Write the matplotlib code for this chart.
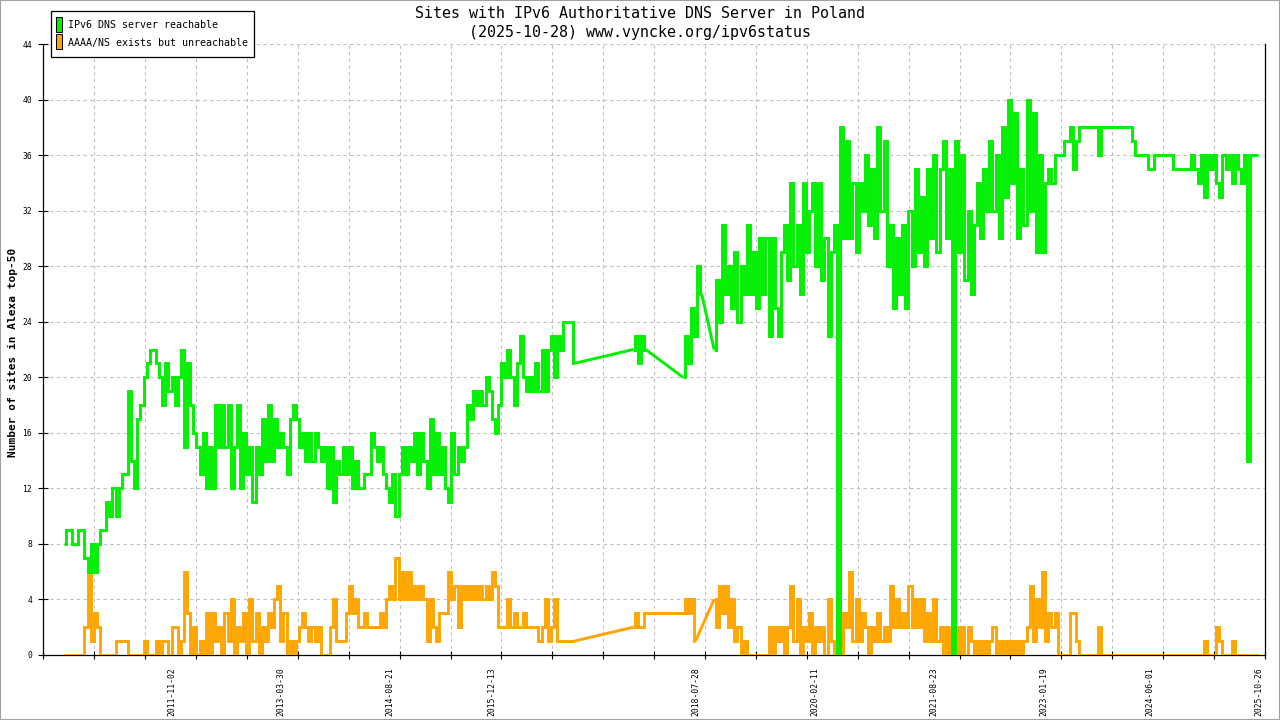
import datetime
import numpy as np
import matplotlib
matplotlib.use("Agg")
import matplotlib.pyplot as plt
from matplotlib.patches import Rectangle

# ---------------- data (sampled every 0.04 year from 2010.45) ----------------
t_start = 2010.45
t_step = 0.04
N = None

green_2010_2013 = [
    8, 9, 9, 8, 8, 9, 9, 7, 6, 8,
    6, 8, 9, 9, 11, 10, 12, 10, 12, 13,
    13, 19, 14, 12, 17, 18, 20, 21, 22, 22,
    21, 20, 18, 21, 19, 20, 18, 20, 22, 15,
    21, 18, 16, 15, 13, 16, 12, 15, 12, 18,
    15, 18, 15, 18, 12, 15, 18, 12, 16, 13,
    15, 11, 15, 13, 17, 14, 18, 14, 17, 15,
    16, 15, 13, 17, 18, 17, 15, 16, 14, 16,
    14, 16, 15, 14, 15, 12, 15, 11, 14, 13,
    15, 13, 15, 12, 14, 12, 12, 13, 13, 16,
]
green_2014_2017 = [
    15, 14, 15, 13, 12, 11, 13, 10, 13, 15,
    13, 15, 14, 16, 13, 16, 14, 12, 17, 13,
    16, 13, 15, 12, 11, 16, 13, 15, 14, 15,
    18, 17, 19, 18, 19, 18, 20, 19, 17, 16,
    18, 21, 20, 22, 20, 18, 21, 23, 20, 19,
    20, 19, 21, 19, 22, 19, 22, 23, 20, 23,
    22, 24, 24, 24, 21, N, N, N, N, N,
    N, N, N, N, N, N, N, N, N, N,
    N, N, N, 22, 23, 21, 23, 22, N, N,
    N, N, N, N, N, N, N, N, N, 20,
]
green_2018_2021 = [
    23, 21, 25, 23, 28, 26, N, N, N, 22,
    27, 24, 31, 26, 28, 25, 29, 24, 28, 26,
    31, 26, 29, 25, 30, 26, 30, 23, 30, 25,
    23, 29, 31, 27, 34, 28, 31, 26, 34, 29,
    32, 34, 28, 34, 27, 30, 23, 29, 31, 0,
    38, 30, 37, 30, 34, 29, 34, 32, 36, 31,
    35, 30, 38, 32, 37, 28, 31, 25, 30, 26,
    31, 25, 32, 28, 35, 29, 33, 28, 35, 30,
    36, 29, 35, 37, 30, 35, 0, 37, 29, 36,
    27, 32, 26, 31, 34, 30, 35, 32, 37, 32,
]
green_2022_2025 = [
    36, 30, 38, 33, 40, 34, 39, 30, 35, 31,
    40, 32, 39, 29, 36, 29, 34, 35, 34, 36,
    36, 36, 37, 37, 38, 35, 37, 38, 38, 38,
    38, 38, 38, 36, 38, 38, 38, 38, 38, 38,
    38, 38, 38, 38, 37, 36, 36, 36, 36, 35,
    35, 36, 36, 36, 36, 36, 36, 35, 35, 35,
    35, 35, 35, 36, 35, 34, 36, 33, 36, 35,
    36, 34, 33, 36, 35, 36, 34, 36, 35, 34,
    36, 14, 36, 36, 36,
]

orange_2010_2013 = [
    0, 0, 0, 0, 0, 0, 0, 2, 6, 1,
    3, 2, 0, 0, 0, 0, 0, 1, 1, 1,
    1, 0, 0, 0, 0, 0, 1, 0, 0, 0,
    1, 0, 1, 1, 0, 2, 2, 0, 1, 6,
    3, 0, 2, 0, 1, 0, 3, 0, 3, 1,
    2, 0, 3, 1, 4, 0, 2, 1, 3, 0,
    4, 1, 3, 0, 2, 1, 3, 2, 4, 5,
    1, 3, 0, 1, 0, 1, 2, 3, 2, 1,
    2, 1, 2, 0, 0, 0, 2, 4, 1, 1,
    1, 3, 5, 3, 4, 2, 2, 3, 2, 2,
]
orange_2014_2017 = [
    2, 2, 3, 2, 4, 5, 4, 7, 4, 6,
    4, 6, 4, 5, 4, 5, 4, 1, 4, 2,
    1, 3, 3, 3, 6, 4, 5, 2, 5, 4,
    5, 4, 5, 4, 5, 4, 5, 4, 6, 5,
    2, 2, 2, 4, 2, 3, 2, 2, 3, 2,
    2, 2, 2, 1, 2, 4, 1, 2, 4, 1,
    1, 1, 1, 1, 1, N, N, N, N, N,
    N, N, N, N, N, N, N, N, N, N,
    N, N, N, 2, 3, 2, 2, 3, 3, 3,
    3, 3, 3, 3, 3, 3, 3, 3, 3, 3,
]
orange_2018_2021 = [
    4, 3, 4, 1, N, N, N, N, N, 4,
    2, 5, 3, 5, 2, 4, 1, 2, 0, 1,
    0, 0, 0, 0, 0, 0, 0, 2, 0, 2,
    1, 2, 0, 2, 5, 1, 4, 0, 2, 1,
    3, 0, 2, 1, 2, 0, 4, 1, 0, 1,
    0, 3, 2, 6, 1, 4, 1, 3, 2, 0,
    2, 1, 3, 1, 2, 1, 5, 2, 4, 2,
    3, 2, 5, 2, 4, 2, 4, 1, 3, 1,
    4, 1, 2, 0, 2, 0, 1, 2, 0, 2,
    0, 2, 1, 0, 1, 0, 1, 0, 1, 2,
]
orange_2022_2025 = [
    0, 1, 0, 1, 0, 1, 0, 1, 0, 1,
    2, 5, 1, 4, 2, 6, 1, 3, 2, 3,
    0, 0, 0, 0, 3, 3, 1, 0, 0, 0,
    0, 0, 0, 2, 0, 0, 0, 0, 0, 0,
    0, 0, 0, 0, 0, 0, 0, 0, 0, 0,
    0, 0, 0, 0, 0, 0, 0, 0, 0, 0,
    0, 0, 0, 0, 0, 0, 0, 1, 0, 0,
    0, 2, 1, 0, 0, 0, 1, 0, 0, 0,
    0, 0, 0, 0, 0,
]

label_dates = ["2011-11-02", "2013-03-30", "2014-08-21", "2015-12-13",
               "2018-07-28", "2020-02-11", "2021-08-23", "2023-01-19",
               "2024-06-01", "2025-10-26"]
y_ticks = list(range(0, 45, 4))

title1 = "Sites with IPv6 Authoritative DNS Server in Poland"
title2 = "(2025-10-28) www.vyncke.org/ipv6status"
legend_green = "IPv6 DNS server reachable"
legend_orange = "AAAA/NS exists but unreachable"
ylabel = "Number of sites in Alexa top-50"

GREEN = "#00f000"
ORANGE = "#ffa500"
MONO = "DejaVu Sans Mono"
LW = 2.1


def dec_year(s):
    d = datetime.date.fromisoformat(s)
    a = datetime.date(d.year, 1, 1)
    b = datetime.date(d.year + 1, 1, 1)
    return d.year + (d - a).days / (b - a).days


def runs(*chunks):
    """Split a sampled series into runs of available samples."""
    vals = [v for c in chunks for v in c]
    t = t_start + t_step * np.arange(len(vals))
    out, cur = [], []
    for ti, v in zip(t, vals):
        if v is None:
            if cur:
                out.append(cur)
                cur = []
        else:
            cur.append((ti, v))
    if cur:
        out.append(cur)
    return [(np.array([p[0] for p in r]), np.array([p[1] for p in r], float)) for r in out]


def draw(ax, rr, color, z):
    for k, (t, v) in enumerate(rr):
        ax.plot(t, v, color=color, lw=LW, drawstyle="steps-mid",
                solid_joinstyle="miter", solid_capstyle="butt", zorder=z)
        if k + 1 < len(rr):
            t2, v2 = rr[k + 1]
            ax.plot([t[-1], t2[0]], [v[-1], v2[0]], color=color, lw=LW,
                    solid_capstyle="butt", zorder=z)


green_runs = runs(green_2010_2013, green_2014_2017, green_2018_2021, green_2022_2025)
orange_runs = runs(orange_2010_2013, orange_2014_2017, orange_2018_2021, orange_2022_2025)

# ---------------- figure ----------------
W, H = 1280, 720
fig = plt.figure(figsize=(W / 100, H / 100), dpi=100)
fig.patch.set_facecolor("white")


def fx(x):
    return x / W


def fy(y):
    return 1 - y / H


L, R, T, B = 43.3, 1265, 44, 655
ax = fig.add_axes([fx(L), fy(B), fx(R) - fx(L), fy(T) - fy(B)])

xmin, xmax = 2010.18, 2025.897
ax.set_xlim(xmin, xmax)
ax.set_ylim(0, 44)

draw(ax, orange_runs, ORANGE, 3)
draw(ax, green_runs, GREEN, 4)

# ticks and grid
grid_x = np.linspace(xmin, xmax, 25)
ax.set_xticks(grid_x)
ax.set_xticklabels([])
ax.set_xticks([dec_year(s) for s in label_dates], minor=True)
ax.set_xticklabels(label_dates, minor=True, rotation=90, family=MONO, fontsize=5.8)
ax.tick_params(axis="x", which="major", direction="inout", length=6, width=0.8, color="black")
ax.tick_params(axis="x", which="minor", length=0, pad=8.6)

ax.set_yticks(y_ticks)
ax.set_yticklabels([str(v) for v in y_ticks], family=MONO, fontsize=5.8)
ax.tick_params(axis="y", direction="inout", length=7.2, width=0.8, pad=4.5)

for gx in grid_x[1:-1]:
    ax.axvline(gx, color="#c0c0c0", lw=0.8, ls=(0, (3, 3)), zorder=1)
for gyv in y_ticks[1:]:
    ax.axhline(gyv, color="#c0c0c0", lw=0.8, ls=(0, (3, 3)), zorder=1)

ax.spines["top"].set_visible(False)
for s in ("left", "bottom", "right"):
    ax.spines[s].set_linewidth(0.9)
    ax.spines[s].set_color("black")

# titles and labels
fig.text(0.5, fy(13), title1, ha="center", va="center", family=MONO, fontsize=10.8)
fig.text(0.5, fy(32), title2, ha="center", va="center", family=MONO, fontsize=10.8)
fig.text(fx(13), fy(352), ylabel, rotation=90, ha="center", va="center",
         family=MONO, fontsize=8, fontweight="bold")

# legend
fig.add_artist(Rectangle((fx(50.7), fy(56.7)), fx(254.3) - fx(50.7), fy(10.7) - fy(56.7),
                         transform=fig.transFigure, facecolor="white", edgecolor="black",
                         lw=0.9, zorder=5))
fig.add_artist(Rectangle((fx(56), fy(32.3)), fx(62.3) - fx(56), fy(16.7) - fy(32.3),
                         transform=fig.transFigure, facecolor=GREEN, edgecolor="black",
                         lw=0.7, zorder=6))
fig.add_artist(Rectangle((fx(56), fy(49.3)), fx(62.3) - fx(56), fy(34.3) - fy(49.3),
                         transform=fig.transFigure, facecolor=ORANGE, edgecolor="black",
                         lw=0.7, zorder=6))
fig.text(fx(68), fy(25.5), legend_green, ha="left", va="center", family=MONO,
         fontsize=7.2, zorder=7)
fig.text(fx(68), fy(43), legend_orange, ha="left", va="center", family=MONO,
         fontsize=7.2, zorder=7)

# outer frame
fig.add_artist(Rectangle((0, 0), 1, 1, transform=fig.transFigure, fill=False,
                         edgecolor="#a0a0a0", lw=1.5, zorder=10))

fig.savefig("out.png", dpi=100)
